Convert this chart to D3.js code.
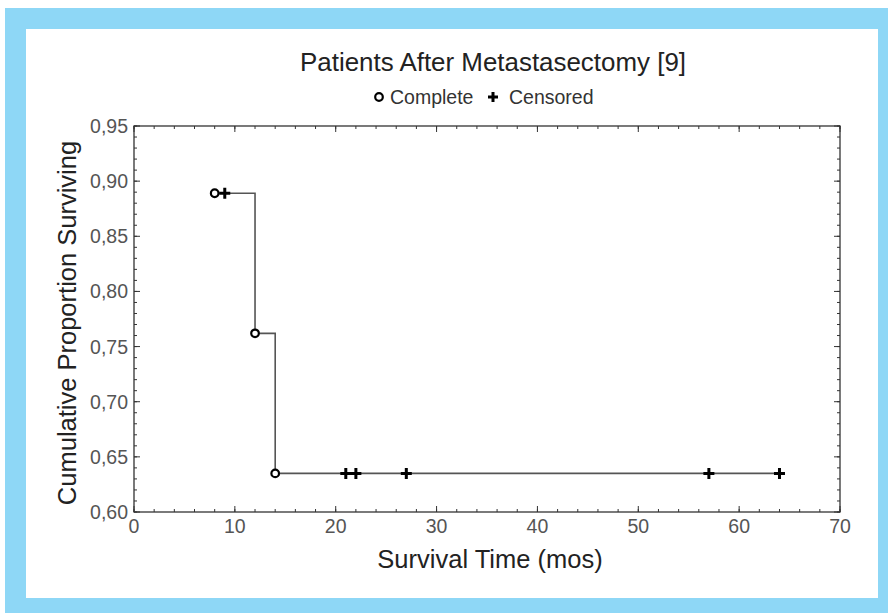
<!DOCTYPE html>
<html>
<head>
<meta charset="utf-8">
<script src="https://cdn.jsdelivr.net/npm/d3@7"></script>
<style>
  body { margin: 0; background: #fff; }
  text { font-family: "Liberation Sans", Arial, sans-serif; }
</style>
</head>
<body>
<div id="chart"></div>
<script>
// survival steps (time in months, cumulative proportion)
const stepTimes = [8, 12, 14, 64];
const stepValues = [0.889, 0.762, 0.635, 0.635];
// complete (event) points
const completeTimes = [8, 12, 14];
const completeValues = [0.889, 0.762, 0.635];
// censored points
const censoredTimes = [9, 21, 22, 27, 57, 64];
const censoredValues = [0.889, 0.635, 0.635, 0.635, 0.635, 0.635];

const xTicks = [0, 10, 20, 30, 40, 50, 60, 70];
const yTicks = [0.60, 0.65, 0.70, 0.75, 0.80, 0.85, 0.90, 0.95];

const W = 888, H = 613;
const margin = {top: 126, right: 48, bottom: 101, left: 134};
const width = W - margin.left - margin.right,
  height = H - margin.top - margin.bottom;

const root = d3.select("#chart").append("svg")
  .attr("width", W).attr("height", H);

// blue frame
root.append("rect").attr("x", 5).attr("y", 8).attr("width", W - 5).attr("height", H - 8).attr("fill", "#8ed7f6");
root.append("rect").attr("x", 26).attr("y", 29).attr("width", 852).attr("height", 569).attr("fill", "#fff");

const svg = root.append("g").attr("transform", `translate(${margin.left},${margin.top})`);

const x = d3.scaleLinear().domain([0, 70]).range([0, width]);
const y = d3.scaleLinear().domain([0.60, 0.95]).range([height, 0]);

const minorX = d3.range(0, 70.01, 2);
const minorY = d3.range(0.60, 0.9501, 0.01);

// inward ticks on all four sides
function tickSet(g, vals, len, side) {
  g.selectAll(null).data(vals).enter().append("line")
    .attr("x1", d => side === "b" || side === "t" ? x(d) : (side === "l" ? 0 : width))
    .attr("x2", d => side === "b" || side === "t" ? x(d) : (side === "l" ? len : width - len))
    .attr("y1", d => side === "l" || side === "r" ? y(d) : (side === "b" ? height : 0))
    .attr("y2", d => side === "l" || side === "r" ? y(d) : (side === "b" ? height - len : len))
    .attr("stroke", "#333").attr("stroke-width", 1);
}
const ticks = svg.append("g");
["b", "t"].forEach(s => { tickSet(ticks, minorX, 3, s); tickSet(ticks, xTicks, 6, s); });
["l", "r"].forEach(s => { tickSet(ticks, minorY, 3, s); tickSet(ticks, yTicks, 6, s); });

svg.append("rect").attr("width", width).attr("height", height)
  .attr("fill", "none").attr("stroke", "#333").attr("stroke-width", 1.3);

// tick labels
svg.selectAll(".xl").data(xTicks).enter().append("text")
  .attr("x", d => x(d)).attr("y", height + 21)
  .attr("text-anchor", "middle").attr("font-size", 19.5).attr("fill", "#555")
  .text(d => d);
svg.selectAll(".yl").data(yTicks).enter().append("text")
  .attr("x", -6).attr("y", d => y(d) + 7)
  .attr("text-anchor", "end").attr("font-size", 19.5).attr("fill", "#555")
  .text(d => d3.format(".2f")(d).replace(".", ","));

// step line
const pts = [];
stepTimes.forEach((t, i) => {
  if (i > 0) pts.push([t, stepValues[i - 1]]);
  pts.push([t, stepValues[i]]);
});
svg.append("path")
  .attr("d", d3.line().x(d => x(d[0])).y(d => y(d[1]))(pts))
  .attr("fill", "none").attr("stroke", "#555").attr("stroke-width", 1.6);

// complete markers
svg.selectAll(".cm").data(completeTimes).enter().append("circle")
  .attr("cx", d => x(d)).attr("cy", (d, i) => y(completeValues[i]))
  .attr("r", 3.8).attr("fill", "#fff").attr("stroke", "#000").attr("stroke-width", 2.2);

// censored markers
function cross(g, cx, cy, s) {
  g.append("path")
    .attr("d", `M${cx - s},${cy}H${cx + s}M${cx},${cy - s}V${cy + s}`)
    .attr("stroke", "#000").attr("stroke-width", 3);
}
censoredTimes.forEach((t, i) => cross(svg, x(t), y(censoredValues[i]), 5.5));

// title and legend
root.append("text").attr("x", 493).attr("y", 71).attr("text-anchor", "middle")
  .attr("font-size", 25).attr("fill", "#222")
  .attr("textLength", 386).attr("lengthAdjust", "spacingAndGlyphs")
  .text("Patients After Metastasectomy [9]");
const leg = root.append("g");
leg.append("circle").attr("cx", 379).attr("cy", 97).attr("r", 3.8)
  .attr("fill", "#fff").attr("stroke", "#000").attr("stroke-width", 2.2);
leg.append("text").attr("x", 390).attr("y", 104).attr("font-size", 19.5).attr("fill", "#333").text("Complete");
cross(leg, 493, 97, 5);
leg.append("text").attr("x", 509).attr("y", 104).attr("font-size", 19.5).attr("fill", "#333").text("Censored");

// axis titles
root.append("text").attr("x", 490).attr("y", 568).attr("text-anchor", "middle")
  .attr("font-size", 25.5).attr("fill", "#222").text("Survival Time (mos)");
root.append("text").attr("transform", `translate(76,${margin.top + height / 2 + 4}) rotate(-90)`)
  .attr("text-anchor", "middle").attr("font-size", 25.5).attr("fill", "#222")
  .text("Cumulative Proportion Surviving");
</script>
</body>
</html>
